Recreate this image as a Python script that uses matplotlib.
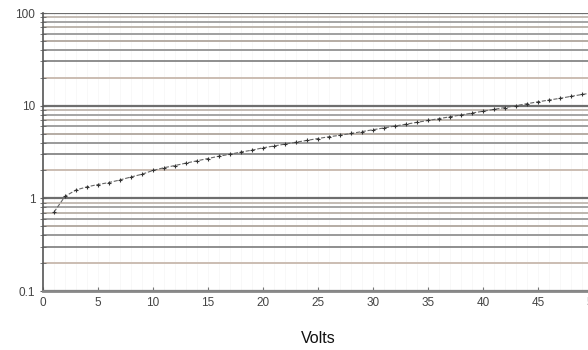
import numpy as np
from matplotlib import pyplot as plt
from matplotlib.ticker import FixedLocator, NullFormatter

plt.rcParams['font.family'] = ['Liberation Sans', 'DejaVu Sans']

# 数据
volts = list(range(1, 51))
values = [0.71, 1.05, 1.23, 1.33, 1.41, 1.48, 1.58, 1.70, 1.82, 2.00,
          2.14, 2.26, 2.40, 2.54, 2.69, 2.85, 2.99, 3.16, 3.31, 3.51,
          3.67, 3.85, 4.03, 4.22, 4.42, 4.62, 4.79, 5.01, 5.25, 5.50,
          5.75, 6.03, 6.31, 6.61, 6.92, 7.24, 7.59, 7.94, 8.32, 8.71,
          9.12, 9.55, 10.0, 10.5, 11.0, 11.5, 12.0, 12.6, 13.2, 13.8]
x_ticks = [0, 5, 10, 15, 20, 25, 30, 35, 40, 45, 50]
y_ticks = [0.1, 1, 10, 100]
y_labels = ['0.1', '1', '10', '100']

# 网格线颜色（每个十倍程内 2..9）
minor_colors = {2: '#cbbdb2', 3: '#8e8e8e', 4: '#9a9a9a', 5: '#b5aca4',
                6: '#a0a0a0', 7: '#bdb5ad', 8: '#a5a5a5', 9: '#c4bcb4'}

fig = plt.figure(figsize=(5.88, 3.5), dpi=100)
ax = fig.add_axes([43 / 588, 59 / 350, 550 / 588, 278 / 350])

ax.set_yscale('log')
ax.set_ylim(0.1, 100)
ax.set_xlim(0, 50)

# 水平网格
for dec in [0.1, 1, 10]:
    ax.axhline(dec, color='#6e6e6e', linewidth=1.6, zorder=1)
    for m in range(2, 10):
        ax.axhline(dec * m, color=minor_colors[m], linewidth=1.4, zorder=1)
ax.axhline(100, color='#6e6e6e', linewidth=1.6, zorder=1)

# 很淡的竖线
for xv in range(1, 50):
    ax.axvline(xv, color='#f7f7f7', linewidth=0.6, zorder=0)

ax.plot(volts, values, linestyle='--', color='#666666', linewidth=0.8,
        marker='+', markersize=3.5, markeredgecolor='#333333',
        markeredgewidth=0.8, zorder=3)

ax.yaxis.set_major_locator(FixedLocator(y_ticks))
ax.set_yticklabels(y_labels)
minor = [d * m for d in [0.1, 1, 10] for m in range(2, 10)]
ax.yaxis.set_minor_locator(FixedLocator(minor))
ax.yaxis.set_minor_formatter(NullFormatter())
ax.set_xticks(x_ticks)

ax.tick_params(axis='y', which='both', direction='inout', length=5,
               color='#666666', labelsize=8.5, labelcolor='#444444', pad=3)
ax.tick_params(axis='x', which='major', direction='in', length=3,
               color='#777777', labelsize=8.5, labelcolor='#444444', pad=4)

for s in ['top', 'right']:
    ax.spines[s].set_visible(False)
ax.spines['left'].set_color('#555555')
ax.spines['left'].set_linewidth(1.2)
ax.spines['bottom'].set_color('#888888')
ax.spines['bottom'].set_linewidth(2)

ax.set_xlabel('Volts', fontsize=11.5, labelpad=16, color='#111111')

plt.savefig('out.png', dpi=100)
